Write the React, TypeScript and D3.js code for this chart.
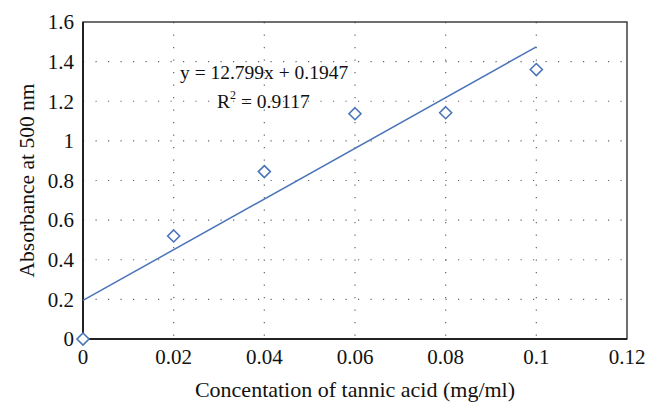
import React, { useEffect, useRef } from "react";
import * as d3 from "d3";

const concentrations = [0, 0.02, 0.04, 0.06, 0.08, 0.1];
const absorbance = [0, 0.52, 0.845, 1.137, 1.142, 1.36];
const xTicks = [0, 0.02, 0.04, 0.06, 0.08, 0.1, 0.12];
const yTicks = [0, 0.2, 0.4, 0.6, 0.8, 1, 1.2, 1.4, 1.6];
const slope = 12.799;
const intercept = 0.1947;

const App = () => {
  const svgRef = useRef<SVGSVGElement>(null);
  const svgWidth = 658;
  const svgHeight = 416;

  useEffect(() => {
    const MARGIN = { TOP: 22, BOTTOM: 77, LEFT: 83, RIGHT: 31 };
    const WIDTH = svgWidth - MARGIN.LEFT - MARGIN.RIGHT;
    const HEIGHT = svgHeight - MARGIN.TOP - MARGIN.BOTTOM;
    const FONT = "'Liberation Serif', 'Times New Roman', serif";
    const BLUE = "#4a74b9";

    const svg = d3.select(svgRef.current);
    svg.selectAll("*").remove();

    const g = svg
      .append("g")
      .attr("transform", `translate(${MARGIN.LEFT}, ${MARGIN.TOP})`);

    const x = d3.scaleLinear().domain([0, 0.12]).range([0, WIDTH]);
    const y = d3.scaleLinear().domain([0, 1.6]).range([HEIGHT, 0]);

    // dotted grid
    g.selectAll(".hgrid")
      .data(yTicks.slice(1, -1))
      .enter()
      .append("line")
      .attr("x1", 0)
      .attr("x2", WIDTH)
      .attr("y1", (d) => y(d))
      .attr("y2", (d) => y(d))
      .attr("stroke", "#666")
      .attr("stroke-width", 1.2)
      .attr("stroke-dasharray", "1.2 11.3");
    g.selectAll(".vgrid")
      .data(xTicks.slice(1, -1))
      .enter()
      .append("line")
      .attr("x1", (d) => x(d))
      .attr("x2", (d) => x(d))
      .attr("y1", 0)
      .attr("y2", HEIGHT)
      .attr("stroke", "#666")
      .attr("stroke-width", 1.2)
      .attr("stroke-dasharray", "1.2 11.3");

    // frame
    g.append("rect")
      .attr("width", WIDTH)
      .attr("height", HEIGHT)
      .attr("fill", "none")
      .attr("stroke", "#222")
      .attr("stroke-width", 1.3);
    g.append("line")
      .attr("x1", 0).attr("x2", 0).attr("y1", 0).attr("y2", HEIGHT)
      .attr("stroke", "#222").attr("stroke-width", 2);
    g.append("line")
      .attr("x1", 0).attr("x2", WIDTH).attr("y1", HEIGHT).attr("y2", HEIGHT)
      .attr("stroke", "#222").attr("stroke-width", 2);

    // tick labels
    g.selectAll(".ylab")
      .data(yTicks)
      .enter()
      .append("text")
      .attr("x", -9)
      .attr("y", (d) => y(d))
      .attr("dy", "0.35em")
      .attr("text-anchor", "end")
      .attr("font-family", FONT)
      .attr("font-size", 21)
      .attr("fill", "#111")
      .text((d) => String(d));
    g.selectAll(".xlab")
      .data(xTicks)
      .enter()
      .append("text")
      .attr("x", (d) => x(d))
      .attr("y", HEIGHT + 25)
      .attr("text-anchor", "middle")
      .attr("font-family", FONT)
      .attr("font-size", 21)
      .attr("fill", "#111")
      .text((d) => String(d));

    // trendline
    g.append("line")
      .attr("x1", x(0))
      .attr("y1", y(intercept))
      .attr("x2", x(0.1))
      .attr("y2", y(slope * 0.1 + intercept))
      .attr("stroke", BLUE)
      .attr("stroke-width", 1.5);

    // diamonds
    const r = 6;
    g.selectAll(".pt")
      .data(concentrations.map((c, i) => [c, absorbance[i]]))
      .enter()
      .append("path")
      .attr(
        "d",
        (d) =>
          `M${x(d[0])},${y(d[1]) - r}L${x(d[0]) + r},${y(d[1])}L${x(d[0])},${y(d[1]) + r}L${x(d[0]) - r},${y(d[1])}Z`
      )
      .attr("fill", "white")
      .attr("stroke", BLUE)
      .attr("stroke-width", 1.6);

    // equation
    g.append("text")
      .attr("x", 180 - MARGIN.LEFT)
      .attr("y", 79 - MARGIN.TOP)
      .attr("font-family", FONT)
      .attr("font-size", 19.5)
      .attr("fill", "#111")
      .text(`y = ${slope}x + ${intercept}`);
    const r2 = g
      .append("text")
      .attr("x", 217 - MARGIN.LEFT)
      .attr("y", 108 - MARGIN.TOP)
      .attr("font-family", FONT)
      .attr("font-size", 19.5)
      .attr("fill", "#111");
    r2.append("tspan").text("R");
    r2.append("tspan").attr("font-size", 12).attr("dy", -9).text("2");
    r2.append("tspan").attr("dy", 9).text(" = 0.9117");

    // axis titles
    svg
      .append("text")
      .attr("x", 355)
      .attr("y", 397)
      .attr("text-anchor", "middle")
      .attr("font-family", FONT)
      .attr("font-size", 22)
      .attr("fill", "#111")
      .text("Concentation of tannic acid (mg/ml)");
    svg
      .append("text")
      .attr("transform", `translate(34, ${MARGIN.TOP + HEIGHT / 2}) rotate(-90)`)
      .attr("text-anchor", "middle")
      .attr("font-family", FONT)
      .attr("font-size", 21.5)
      .attr("fill", "#111")
      .text("Absorbance at 500 nm");
  }, []);

  return (
    <svg
      ref={svgRef}
      width={svgWidth}
      height={svgHeight}
      style={{ position: "absolute", left: 0, top: 0, background: "white" }}
    />
  );
};

export default App;
